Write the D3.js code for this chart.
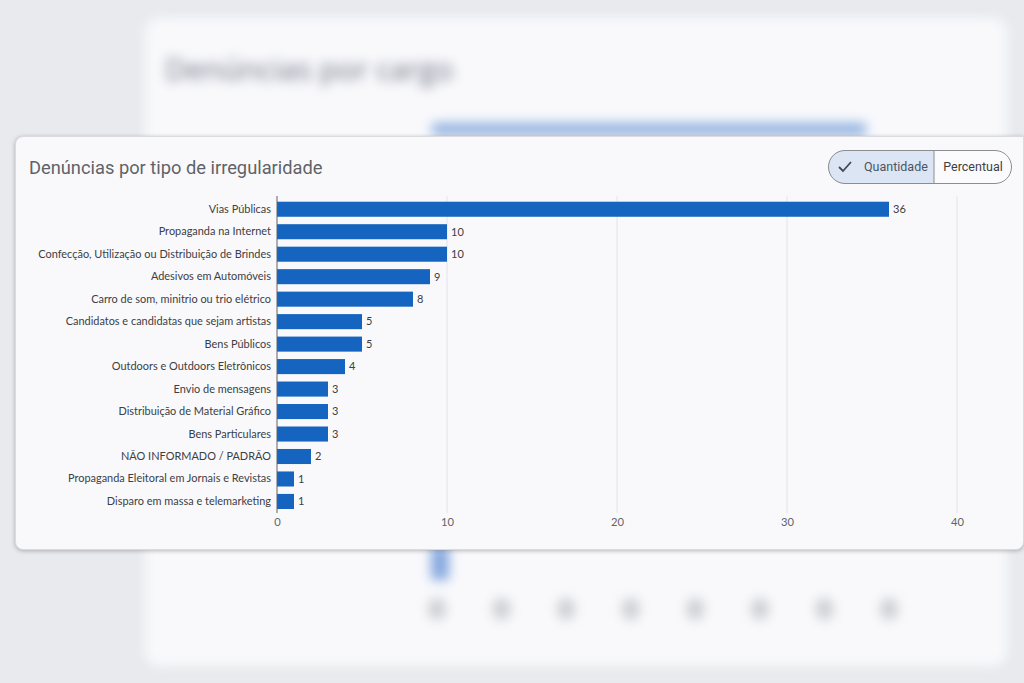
<!DOCTYPE html>
<html lang="pt-BR">
<head>
<meta charset="UTF-8">
<script src="https://d3js.org/d3.v7.min.js"></script>
<title>Denúncias por tipo de irregularidade</title>
<style>
  html, body { margin: 0; padding: 0; }
  body {
    width: 1024px; height: 683px; overflow: hidden; position: relative;
    background: #e8eaed; font-family: "Open Sans", "Noto Sans", sans-serif;
  }
  #back {
    position: absolute; left: 145px; top: 18px; width: 862px; height: 648px;
    background: #f9f9fc; border-radius: 14px; filter: blur(6px);
  }
  #front {
    position: absolute; left: 15px; top: 136px; width: 1009px; height: 414px;
    background: #f9f9fc; border-radius: 8px 0 8px 8px;
    box-shadow: 0 1px 4px rgba(60,64,67,0.35);
    border: 1px solid #d9dbe0; box-sizing: border-box;
  }
  #front svg, #back svg { position: absolute; left: 0; top: 0; }
</style>
</head>
<body>
<div id="back"></div>
<div id="front"></div>
<script>
const categories = [
  "Vias Públicas",
  "Propaganda na Internet",
  "Confecção, Utilização ou Distribuição de Brindes",
  "Adesivos em Automóveis",
  "Carro de som, minitrio ou trio elétrico",
  "Candidatos e candidatas que sejam artistas",
  "Bens Públicos",
  "Outdoors e Outdoors Eletrônicos ",
  "Envio de mensagens",
  "Distribuição de Material Gráfico",
  "Bens Particulares",
  "NÃO INFORMADO / PADRÃO",
  "Propaganda Eleitoral em Jornais e Revistas",
  "Disparo em massa e telemarketing"
];
const values = [36, 10, 10, 9, 8, 5, 5, 4, 3, 3, 3, 2, 1, 1];
const xTicks = [0, 10, 20, 30, 40];
const title = "Denúncias por tipo de irregularidade";
const toggleLabels = ["Quantidade", "Percentual"];

// blurred card behind (only decoration)
const backTitle = "Denúncias por cargo";
const backSlots = ["a", "b", "c", "d", "e", "f", "g", "h"];

const back = d3.select("#back").append("svg").attr("width", 862).attr("height", 648);
back.append("text").attr("x", 20).attr("y", 62)
  .attr("font-size", 30).attr("fill", "#6a7080").text(backTitle);
back.append("rect").attr("x", 287).attr("y", 105).attr("width", 434).attr("height", 12)
  .attr("fill", "#8fb0e0");
const bx = d3.scalePoint().domain(backSlots).range([292, 744]);
back.append("rect").attr("x", bx("a") - 6).attr("y", 528).attr("width", 18).attr("height", 34)
  .attr("fill", "#86a9df");
back.selectAll("ellipse.t").data(backSlots).join("ellipse")
  .attr("cx", d => bx(d)).attr("cy", 591)
  .attr("rx", 9).attr("ry", 11).attr("fill", "#cdced3");

// front card
const W = 1009, H = 414;
const svg = d3.select("#front").append("svg").attr("width", W).attr("height", H);
const ox = -16, oy = -137; // page -> card offset (card border is 1px)

svg.append("text").attr("x", 29 + ox).attr("y", 174 + oy)
  .attr("font-family", "Roboto, sans-serif")
  .attr("font-size", 18.3).attr("fill", "#5f6368").text(title);

const x = d3.scaleLinear().domain([0, 40]).range([277 + ox, 957 + ox]);
const y = d3.scaleBand().domain(categories).range([198 + oy, 512.7 + oy])
  .paddingInner(0.33).paddingOuter(0.165);

const g = svg.append("g");
g.selectAll("line.grid").data(xTicks.slice(1)).join("line")
  .attr("class", "grid")
  .attr("x1", d => x(d)).attr("x2", d => x(d))
  .attr("y1", 196 + oy).attr("y2", 513 + oy)
  .attr("stroke", "#e3e4e8").attr("stroke-width", 1);

g.selectAll("rect.bar").data(values).join("rect")
  .attr("class", "bar")
  .attr("x", x(0)).attr("y", (d, i) => y(categories[i]))
  .attr("width", d => x(d) - x(0)).attr("height", y.bandwidth())
  .attr("fill", "#1565c0");

g.selectAll("text.val").data(values).join("text")
  .attr("x", d => x(d) + 4).attr("y", (d, i) => y(categories[i]) + y.bandwidth() / 2)
  .attr("dy", "0.35em").attr("font-size", 11).attr("fill", "#3c4043")
  .attr("font-family", "Lato, sans-serif").text(d => d);

g.append("line").attr("x1", x(0)).attr("x2", x(0))
  .attr("y1", 196 + oy).attr("y2", 513 + oy)
  .attr("stroke", "#5f6368").attr("stroke-width", 1);

const yAxis = d3.axisLeft(y).tickSize(0).tickPadding(6);
g.append("g").attr("transform", `translate(${x(0)},0)`).call(yAxis)
  .call(s => s.select(".domain").remove())
  .selectAll("text").attr("font-size", 10.95).attr("fill", "#3c4043")
  .attr("font-family", "Lato, sans-serif");

const xAxis = d3.axisBottom(x).tickValues(xTicks).tickSize(0).tickPadding(5);
g.append("g").attr("transform", `translate(0,${513 + oy})`).call(xAxis)
  .call(s => s.select(".domain").remove())
  .selectAll("text").attr("font-size", 11.2).attr("fill", "#5f6368")
  .attr("font-family", "Lato, sans-serif");

// toggle Quantidade / Percentual
const tg = svg.append("g").attr("transform", `translate(${828 + ox},${150 + oy})`);
const tw = 184, th = 34, split = 106;
tg.append("clipPath").attr("id", "pill").append("rect")
  .attr("width", tw).attr("height", th).attr("rx", th / 2);
tg.append("rect").attr("width", split).attr("height", th)
  .attr("fill", "#dce5f3").attr("clip-path", "url(#pill)");
tg.append("rect").attr("x", split).attr("width", tw - split).attr("height", th)
  .attr("fill", "#fbfbfd").attr("clip-path", "url(#pill)");
tg.append("rect").attr("x", 0.5).attr("y", 0.5).attr("width", tw - 1).attr("height", th - 1)
  .attr("rx", (th - 1) / 2).attr("fill", "none").attr("stroke", "#8a8d93");
tg.append("line").attr("x1", split).attr("x2", split).attr("y1", 0).attr("y2", th)
  .attr("stroke", "#8a8d93");
tg.append("path").attr("d", "M11,17 L15,21 L23,12")
  .attr("fill", "none").attr("stroke", "#3c4a5e").attr("stroke-width", 1.8);
tg.append("text").attr("x", 36).attr("y", th / 2).attr("dy", "0.35em")
  .attr("font-family", "Roboto, sans-serif").attr("font-size", 12.5)
  .attr("fill", "#4a5566").text(toggleLabels[0]);
tg.append("text").attr("x", split + (tw - split) / 2).attr("y", th / 2).attr("dy", "0.35em")
  .attr("text-anchor", "middle").attr("font-family", "Roboto, sans-serif").attr("font-size", 12.5)
  .attr("fill", "#3c4043").text(toggleLabels[1]);
</script>
</body>
</html>
